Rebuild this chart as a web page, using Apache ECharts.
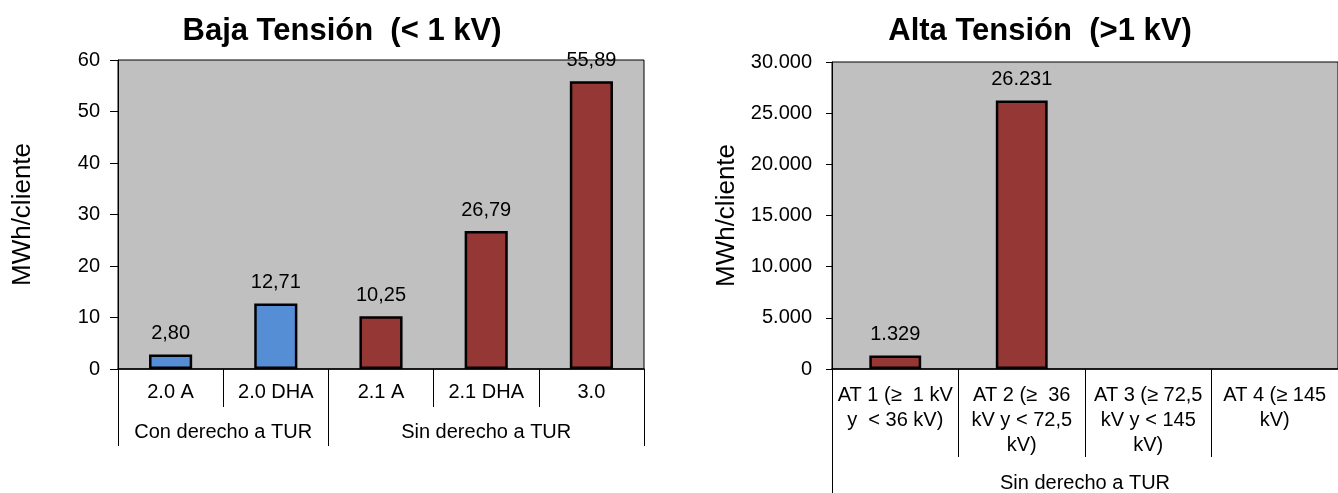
<!DOCTYPE html>
<html>
<head>
<meta charset="utf-8">
<script src="https://cdn.jsdelivr.net/npm/echarts@6/dist/echarts.min.js"></script>
<style>
html,body{margin:0;padding:0;background:#fff;overflow:hidden;}
#c{width:1338px;height:493px;}
</style>
</head>
<body>
<div id="c"></div>
<script>
// ---- Data: Baja Tensión ----
const btCategories = ['2.0 A', '2.0 DHA', '2.1 A', '2.1 DHA', '3.0'];
const btValues = [2.80, 12.71, 10.25, 26.79, 55.89];
const btGroupIndex = [0, 0, 1, 1, 1];
const btGroups = ['Con derecho a TUR', 'Sin derecho a TUR'];
const btGroupSpans = [2, 3];
const btYTicks = [0, 10, 20, 30, 40, 50, 60];

// ---- Data: Alta Tensión ----
const atCategories = ['AT 1 (≥  1 kV\ny  < 36 kV)', 'AT 2 (≥  36\nkV y < 72,5\nkV)', 'AT 3 (≥ 72,5\nkV y < 145\nkV)', 'AT 4 (≥ 145\nkV)'];
const atValues = [1329, 26231, null, null];
const atGroups = ['Sin derecho a TUR'];
const atGroupSpans = [4];
const atYTicks = [0, 5000, 10000, 15000, 20000, 25000, 30000];

const groupColors = ['#558ED5', '#953735'];
const FONT = "'Liberation Sans', Arial, sans-serif";

function boundaries(spans) {
  const b = [0]; let s = 0;
  spans.forEach(v => { s += v; b.push(s); });
  return b;
}
function centers(spans) {
  const c = []; let s = 0;
  spans.forEach(v => { c.push(s + v / 2); s += v; });
  return c;
}
function thousands(v) {
  return String(Math.round(v)).replace(/\B(?=(\d{3})+(?!\d))/g, '.');
}

const btB = boundaries(btGroupSpans), btC = centers(btGroupSpans);
const atB = boundaries(atGroupSpans), atC = centers(atGroupSpans);

const chart = echarts.init(document.getElementById('c'), null, {renderer: 'canvas'});

const baseText = {fontFamily: FONT, color: '#000'};

const option = {
  animation: false,
  textStyle: {fontFamily: FONT},
  title: [
    {text: 'Baja Tensión  (< 1 kV)', left: 342, top: 16, padding: 0, textAlign: 'center',
     textStyle: {fontFamily: FONT, fontSize: 31, fontWeight: 'bold', color: '#000'}},
    {text: 'Alta Tensión  (>1 kV)', left: 1040, top: 16, padding: 0, textAlign: 'center',
     textStyle: {fontFamily: FONT, fontSize: 31, fontWeight: 'bold', color: '#000'}}
  ],
  grid: [
    {left: 118, top: 60, width: 526, height: 309, show: true, backgroundColor: '#C0C0C0', borderColor: '#000', borderWidth: 1, containLabel: false},
    {left: 832, top: 62, width: 513, height: 310, show: true, backgroundColor: '#C0C0C0', borderColor: '#000', borderWidth: 1, containLabel: false}
  ],
  xAxis: [
    {type: 'category', gridIndex: 0, data: btCategories, position: 'bottom',
     axisLine: {lineStyle: {color: '#000', width: 1.5}},
     axisTick: {show: true, interval: 0, length: 38, lineStyle: {color: '#000', width: 1}},
     axisLabel: Object.assign({fontSize: 20, margin: 13, interval: 0}, baseText),
     splitLine: {show: false}},
    {type: 'value', gridIndex: 0, min: 0, max: btCategories.length, position: 'bottom',
     axisLine: {show: false},
     axisTick: {show: true, customValues: btB, length: 77, lineStyle: {color: '#000', width: 1}},
     axisLabel: Object.assign({fontSize: 20, margin: 53, customValues: btC,
       formatter: v => btGroups[btC.indexOf(v)] || ''}, baseText),
     splitLine: {show: false}},
    {type: 'category', gridIndex: 1, data: atCategories, position: 'bottom',
     axisLine: {lineStyle: {color: '#000', width: 1.5}},
     axisTick: {show: true, interval: 0, length: 88, lineStyle: {color: '#000', width: 1}},
     axisLabel: Object.assign({fontSize: 20, margin: 14, interval: 0, lineHeight: 25}, baseText),
     splitLine: {show: false}},
    {type: 'value', gridIndex: 1, min: 0, max: atCategories.length, position: 'bottom',
     axisLine: {show: false},
     axisTick: {show: true, customValues: atB, length: 130, lineStyle: {color: '#000', width: 1}},
     axisLabel: Object.assign({fontSize: 20, margin: 104, customValues: atC,
       formatter: v => atGroups[atC.indexOf(v)] || ''}, baseText),
     splitLine: {show: false}}
  ],
  yAxis: [
    {type: 'value', gridIndex: 0, min: btYTicks[0], max: btYTicks[btYTicks.length - 1], interval: btYTicks[1] - btYTicks[0],
     name: 'MWh/cliente', nameLocation: 'middle', nameGap: 82,
     nameTextStyle: {fontFamily: FONT, fontSize: 26, color: '#000'},
     axisLine: {show: true, lineStyle: {color: '#000', width: 1}},
     axisTick: {show: true, length: 8, lineStyle: {color: '#000'}},
     axisLabel: Object.assign({fontSize: 20, margin: 18}, baseText),
     splitLine: {show: false}},
    {type: 'value', gridIndex: 1, min: atYTicks[0], max: atYTicks[atYTicks.length - 1], interval: atYTicks[1] - atYTicks[0],
     name: 'MWh/cliente', nameLocation: 'middle', nameGap: 92,
     nameTextStyle: {fontFamily: FONT, fontSize: 26, color: '#000'},
     axisLine: {show: true, lineStyle: {color: '#000', width: 1}},
     axisTick: {show: true, length: 6, lineStyle: {color: '#000'}},
     axisLabel: Object.assign({fontSize: 20, margin: 20, formatter: v => thousands(v)}, baseText),
     splitLine: {show: false}}
  ],
  series: [
    {type: 'bar', xAxisIndex: 0, yAxisIndex: 0, barWidth: '41%',
     data: btValues.map((v, i) => ({value: v, itemStyle: {color: groupColors[btGroupIndex[i]]}})),
     itemStyle: {borderColor: '#000', borderWidth: 2.5},
     label: {show: true, position: 'top', distance: 11, fontSize: 20, fontFamily: FONT, color: '#000',
       formatter: p => p.value.toFixed(2).replace('.', ',')}},
    {type: 'bar', xAxisIndex: 2, yAxisIndex: 1, barWidth: '41%',
     data: atValues.map(v => ({value: v, itemStyle: {color: groupColors[1]}})),
     itemStyle: {borderColor: '#000', borderWidth: 2.5},
     label: {show: true, position: 'top', distance: 11, fontSize: 20, fontFamily: FONT, color: '#000',
       formatter: p => p.value == null ? '' : thousands(p.value)}}
  ]
};
chart.setOption(option);
</script>
</body>
</html>
